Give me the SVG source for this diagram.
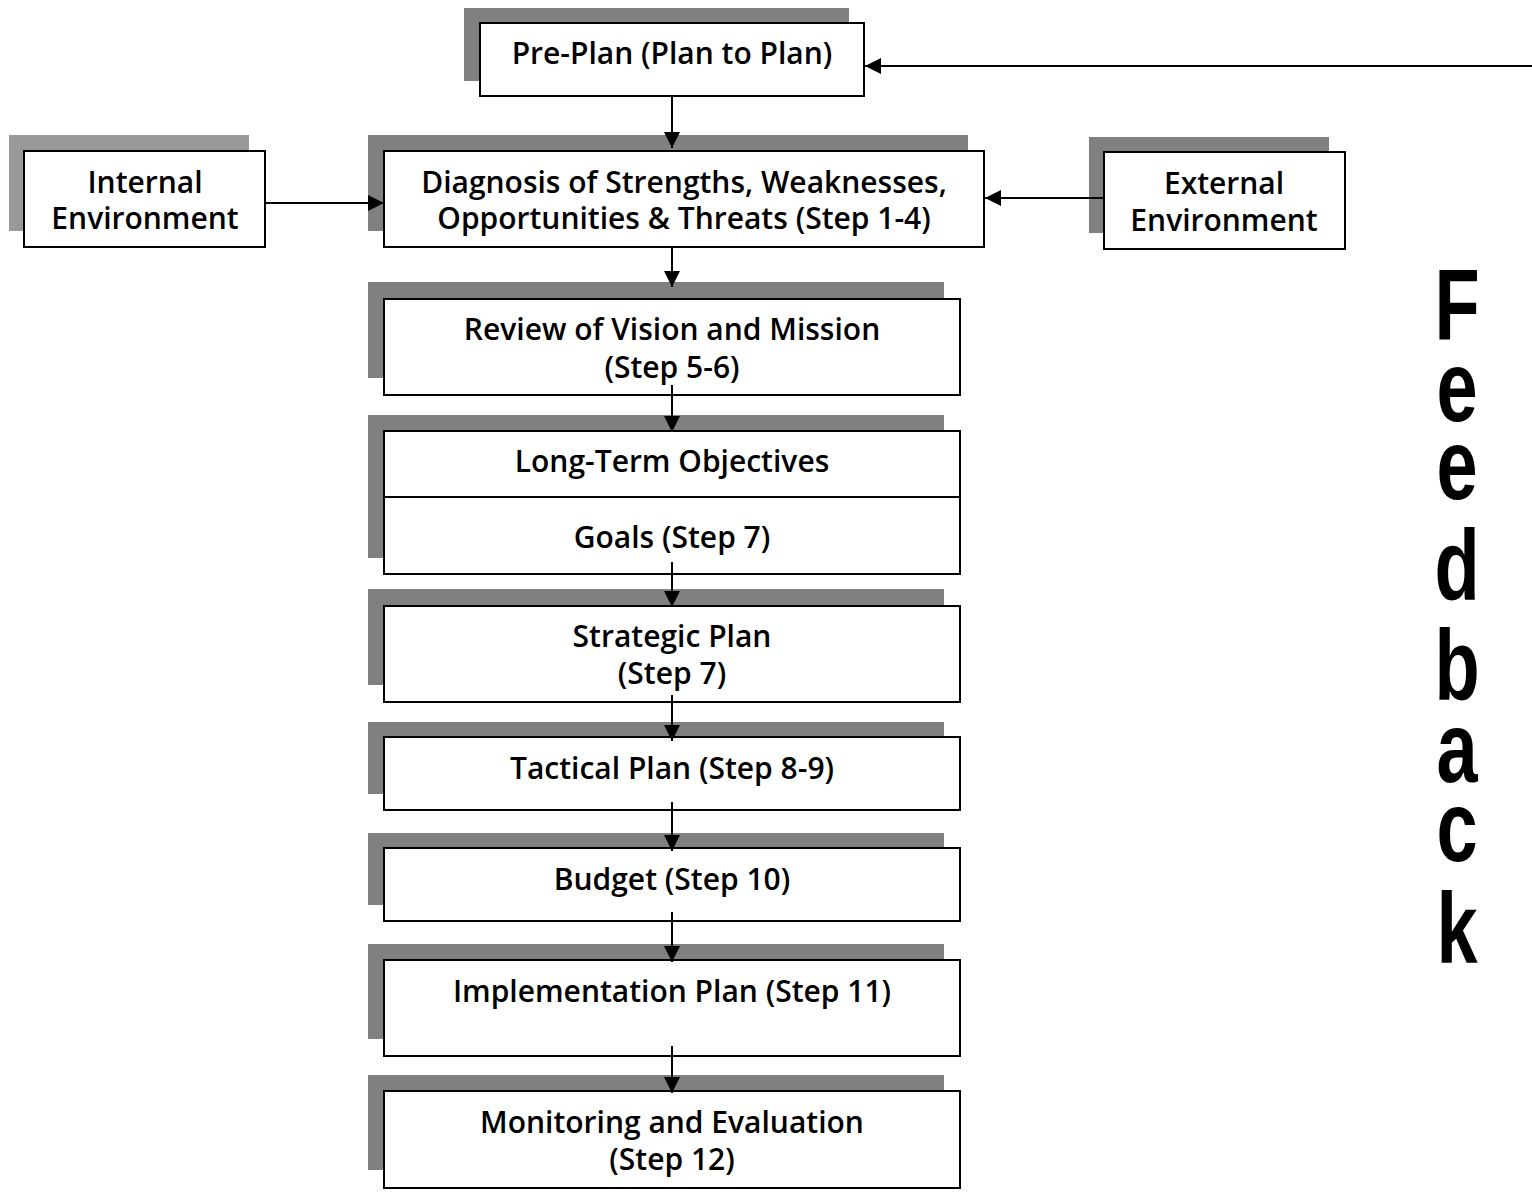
<svg xmlns="http://www.w3.org/2000/svg" width="1532" height="1198" viewBox="0 0 1532 1198">
<style>
.sh{fill:#808080}
.sh2{fill:#999999}
.bx{fill:#ffffff;stroke:#000000;stroke-width:2}
.t{font-family:"Open Sans","DejaVu Sans",sans-serif;font-weight:600;font-size:30px;fill:#000;text-anchor:middle}
.c{stroke:#000;stroke-width:2;fill:none}
.fb{font-family:"Liberation Sans",Arial,sans-serif;font-weight:bold;font-size:100px;fill:#000;text-anchor:middle}
</style>
<defs>
<marker id="ah" markerUnits="userSpaceOnUse" markerWidth="16" markerHeight="16" viewBox="0 0 16 16" refX="16" refY="8" orient="auto">
<path d="M0,0 L16,8 L0,16 Z" fill="#000"/>
</marker>
</defs>
<rect width="1532" height="1198" fill="#fff"/>

<g id="preplan">
<rect class="sh" x="464" y="8" width="385" height="73"/>
<rect class="bx" x="480" y="23" width="384" height="73"/>
<text class="t" x="672" y="64">Pre-Plan (Plan to Plan)</text>
</g>

<g id="internal">
<rect class="sh2" x="9" y="135" width="240" height="96"/>
<rect class="bx" x="24" y="151" width="241" height="96"/>
<text class="t" x="145" y="193">Internal</text>
<text class="t" x="145" y="229">Environment</text>
</g>

<g id="diagnosis">
<rect class="sh" x="368" y="135" width="600" height="96"/>
<rect class="bx" x="384" y="151" width="600" height="96"/>
<text class="t" x="684" y="193">Diagnosis of Strengths, Weaknesses,</text>
<text class="t" x="684" y="229">Opportunities &amp; Threats (Step 1-4)</text>
</g>

<g id="external">
<rect class="sh" x="1089" y="137" width="240" height="96"/>
<rect class="bx" x="1104" y="152" width="241" height="97"/>
<text class="t" x="1224" y="194">External</text>
<text class="t" x="1224" y="231">Environment</text>
</g>

<g id="review">
<rect class="sh" x="368" y="282" width="576" height="96"/>
<rect class="bx" x="384" y="299" width="576" height="96"/>
<text class="t" x="672" y="340">Review of Vision and Mission</text>
<text class="t" x="672" y="378">(Step 5-6)</text>
</g>

<g id="objectives">
<rect class="sh" x="368" y="415" width="576" height="143"/>
<rect class="bx" x="384" y="431" width="576" height="143"/>
<line class="c" x1="384" y1="497" x2="960" y2="497"/>
<text class="t" x="672" y="472">Long-Term Objectives</text>
<text class="t" x="672" y="548">Goals (Step 7)</text>
</g>

<g id="strategic">
<rect class="sh" x="368" y="589" width="576" height="96"/>
<rect class="bx" x="384" y="606" width="576" height="96"/>
<text class="t" x="672" y="647">Strategic Plan</text>
<text class="t" x="672" y="684">(Step 7)</text>
</g>

<g id="tactical">
<rect class="sh" x="368" y="722" width="576" height="72"/>
<rect class="bx" x="384" y="737" width="576" height="73"/>
<text class="t" x="672" y="779">Tactical Plan (Step 8-9)</text>
</g>

<g id="budget">
<rect class="sh" x="368" y="833" width="576" height="72"/>
<rect class="bx" x="384" y="848" width="576" height="73"/>
<text class="t" x="672" y="890">Budget (Step 10)</text>
</g>

<g id="implementation">
<rect class="sh" x="368" y="944" width="576" height="95"/>
<rect class="bx" x="384" y="960" width="576" height="96"/>
<text class="t" x="672" y="1002">Implementation Plan (Step 11)</text>
</g>

<g id="monitoring">
<rect class="sh" x="368" y="1075" width="576" height="95"/>
<rect class="bx" x="384" y="1091" width="576" height="97"/>
<text class="t" x="672" y="1133">Monitoring and Evaluation</text>
<text class="t" x="672" y="1170">(Step 12)</text>
</g>

<g id="feedback">
<text class="fb" transform="translate(1457,339) scale(0.74,1)">F</text>
<text class="fb" transform="translate(1457,421) scale(0.74,1)">e</text>
<text class="fb" transform="translate(1457,499) scale(0.74,1)">e</text>
<text class="fb" transform="translate(1457,600) scale(0.74,1)">d</text>
<text class="fb" transform="translate(1457,700) scale(0.74,1)">b</text>
<text class="fb" transform="translate(1457,782) scale(0.74,1)">a</text>
<text class="fb" transform="translate(1457,861) scale(0.74,1)">c</text>
<text class="fb" transform="translate(1457,963) scale(0.74,1)">k</text>
</g>

<g id="connectors">
<line class="c" x1="672" y1="96" x2="672" y2="148" marker-end="url(#ah)"/>
<line class="c" x1="672" y1="247" x2="672" y2="287" marker-end="url(#ah)"/>
<line class="c" x1="672" y1="385" x2="672" y2="432" marker-end="url(#ah)"/>
<line class="c" x1="672" y1="562" x2="672" y2="607" marker-end="url(#ah)"/>
<line class="c" x1="672" y1="695" x2="672" y2="741" marker-end="url(#ah)"/>
<line class="c" x1="672" y1="802" x2="672" y2="851" marker-end="url(#ah)"/>
<line class="c" x1="672" y1="912" x2="672" y2="962" marker-end="url(#ah)"/>
<line class="c" x1="672" y1="1046" x2="672" y2="1093" marker-end="url(#ah)"/>
<line class="c" x1="265" y1="203" x2="384" y2="203" marker-end="url(#ah)"/>
<line class="c" x1="1104" y1="198" x2="985" y2="198" marker-end="url(#ah)"/>
<line class="c" x1="1532" y1="66" x2="865" y2="66" marker-end="url(#ah)"/>
</g>
</svg>
